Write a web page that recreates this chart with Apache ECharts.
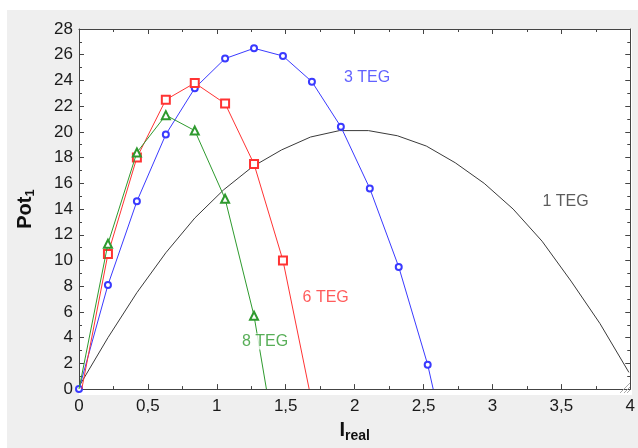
<!DOCTYPE html>
<html><head><meta charset="utf-8">
<script src="https://cdn.jsdelivr.net/npm/echarts@6/dist/echarts.min.js"></script>
<style>html,body{margin:0;padding:0;background:#fff;}#c{width:638px;height:448px;}</style>
</head><body><div id="c"></div>
<script>
// 1 TEG (black curve)
const teg1X = [0, 0.21, 0.42, 0.63, 0.84, 1.05, 1.26, 1.47, 1.68, 1.89, 2.10, 2.31, 2.52, 2.73, 2.94, 3.15, 3.36, 3.57, 3.78, 3.99];
const teg1Y = [0.2, 4.0, 7.5, 10.6, 13.3, 15.5, 17.3, 18.6, 19.6, 20.1, 20.1, 19.7, 18.9, 17.6, 16.0, 14.0, 11.5, 8.4, 5.1, 1.3];
// 3 TEG (blue circles)
const teg3X = [0, 0.21, 0.42, 0.63, 0.84, 1.06, 1.27, 1.48, 1.69, 1.90, 2.11, 2.32, 2.53, 2.57];
const teg3Y = [0, 8.1, 14.6, 19.8, 23.4, 25.7, 26.5, 25.9, 23.9, 20.4, 15.6, 9.5, 1.9, 0];
// 6 TEG (red squares)
const teg6X = [0.02, 0.21, 0.42, 0.63, 0.84, 1.06, 1.27, 1.48, 1.67];
const teg6Y = [0, 10.5, 18.0, 22.5, 23.8, 22.2, 17.5, 10.0, 0];
// 8 TEG (green triangles)
const teg8X = [0, 0.21, 0.42, 0.63, 0.84, 1.06, 1.27, 1.36];
const teg8Y = [0, 11.3, 18.4, 21.3, 20.1, 14.8, 5.7, 0];
// curve labels
const labelText = ['3 TEG', '1 TEG', '6 TEG', '8 TEG'];
const labelX = [2.09, 3.53, 1.79, 1.35];
const labelY = [24.2, 14.6, 7.1, 3.7];
const labelColor = ['#3a3aff', '#333333', '#ff3333', '#2e9a2e'];

const xTicks = {min: 0, max: 4, interval: 0.5};
const yTicks = {min: 0, max: 28, interval: 2};

function pairs(xs, ys, noFirst, noLast) {
  return xs.map((x, i) => {
    const d = {value: [x, ys[i]]};
    if ((noLast && i === xs.length - 1) || (noFirst && i === 0)) d.symbol = 'none';
    return d;
  });
}

const FONT = 'Liberation Sans, Arial, sans-serif';
const axisCol = '#444';
const chart = echarts.init(document.getElementById('c'), null, {renderer: 'canvas'});

const baseX = {
  type: 'value', min: xTicks.min, max: xTicks.max, interval: xTicks.interval,
  axisLine: {show: true, onZero: false, lineStyle: {color: axisCol, width: 1}},
  axisTick: {show: true, inside: true, length: 5, lineStyle: {color: axisCol}},
  minorTick: {show: true, splitNumber: 2, length: 3, lineStyle: {color: axisCol}},
  splitLine: {show: false}, minorSplitLine: {show: false}
};
const baseY = {
  type: 'value', min: yTicks.min, max: yTicks.max, interval: yTicks.interval,
  axisLine: {show: true, onZero: false, lineStyle: {color: axisCol, width: 1}},
  axisTick: {show: true, inside: true, length: 5, lineStyle: {color: axisCol}},
  minorTick: {show: true, splitNumber: 2, length: 3, lineStyle: {color: axisCol}},
  splitLine: {show: false}, minorSplitLine: {show: false}
};

chart.setOption({
  animation: false,
  backgroundColor: '#fff',
  graphic: [
    {type: 'rect', shape: {x: 7, y: 10, width: 631, height: 438}, style: {fill: '#efefef'}, z: -10, silent: true},
    {type: 'rect', shape: {x: 79, y: 29, width: 553, height: 366}, style: {fill: '#fff'}, z: -9, silent: true},
    {type: 'line', shape: {x1: 620, y1: 393, x2: 630, y2: 383}, style: {stroke: '#aaa', lineWidth: 1}, z: 10},
    {type: 'line', shape: {x1: 624, y1: 393, x2: 630, y2: 387}, style: {stroke: '#aaa', lineWidth: 1}, z: 10},
    {type: 'line', shape: {x1: 627, y1: 393, x2: 630, y2: 390}, style: {stroke: '#aaa', lineWidth: 1}, z: 10}
  ],
  grid: {left: 79, top: 29, right: 6, bottom: 53, containLabel: false},
  xAxis: [
    Object.assign({}, baseX, {
      position: 'bottom',
      axisLabel: {show: true, margin: 9, fontSize: 17, color: '#1a1a1a', fontFamily: FONT,
        formatter: v => String(v).replace('.', ',')},
      name: '{a|I}{b|real}', nameLocation: 'middle', nameGap: 30,
      nameTextStyle: {rich: {
        a: {fontSize: 20, fontWeight: 'bold', fontFamily: FONT, color: '#111', lineHeight: 22, verticalAlign: 'top'},
        b: {fontSize: 14, fontWeight: 'bold', fontFamily: FONT, color: '#111', lineHeight: 22, verticalAlign: 'top', padding: [9, 0, 0, 0]}
      }}
    }),
    Object.assign({}, baseX, {position: 'top', axisLabel: {show: false}})
  ],
  yAxis: [
    Object.assign({}, baseY, {
      position: 'left',
      axisLabel: {show: true, margin: 6, fontSize: 17, color: '#1a1a1a', fontFamily: FONT},
      name: '{a|Pot}{b|1}', nameLocation: 'middle', nameGap: 42, nameRotate: 90,
      nameTextStyle: {rich: {
        a: {fontSize: 20, fontWeight: 'bold', fontFamily: FONT, color: '#111', lineHeight: 22, verticalAlign: 'top'},
        b: {fontSize: 13, fontWeight: 'bold', fontFamily: FONT, color: '#111', lineHeight: 22, verticalAlign: 'top', padding: [9, 0, 0, 0]}
      }}
    }),
    Object.assign({}, baseY, {position: 'right', axisLabel: {show: false}})
  ],
  series: [
    {type: 'line', name: '1 TEG', data: pairs(teg1X, teg1Y, false, false), symbol: 'none',
      lineStyle: {color: '#3a3a3a', width: 1}, itemStyle: {color: '#3a3a3a'}, z: 2},
    {type: 'line', name: '3 TEG', data: pairs(teg3X, teg3Y, false, true), symbol: 'emptyCircle', symbolSize: 6,
      lineStyle: {color: '#3a3aff', width: 1}, itemStyle: {color: '#3a3aff', borderWidth: 1}, z: 3},
    {type: 'line', name: '6 TEG', data: pairs(teg6X, teg6Y, true, true), symbol: 'emptyRect', symbolSize: 8,
      lineStyle: {color: '#ff3333', width: 1}, itemStyle: {color: '#ff3333', borderWidth: 1}, z: 4},
    {type: 'line', name: '8 TEG', data: pairs(teg8X, teg8Y, true, true), symbol: 'emptyTriangle', symbolSize: 8,
      lineStyle: {color: '#2e9a2e', width: 1}, itemStyle: {color: '#2e9a2e', borderWidth: 1}, z: 5},
    {type: 'scatter', name: 'labels', symbol: 'circle', symbolSize: 1, z: 6,
      itemStyle: {color: 'rgba(0,0,0,0)'},
      label: {show: true, position: 'inside', fontSize: 16, fontFamily: FONT,
        formatter: p => labelText[p.dataIndex]},
      data: labelText.map((t, i) => ({
        value: [labelX[i], labelY[i]],
        label: {color: labelColor[i], backgroundColor: i === 3 ? '#fff' : 'transparent', padding: [0, 1]}
      }))}
  ]
});
</script></body></html>
